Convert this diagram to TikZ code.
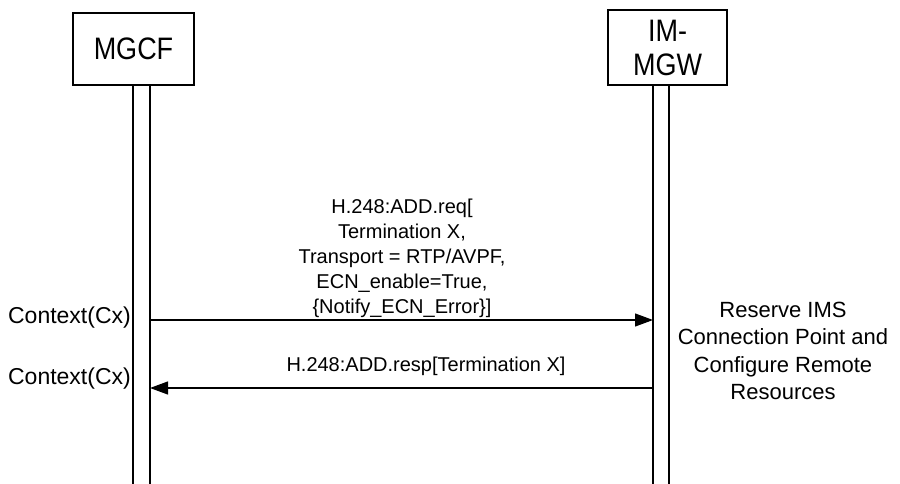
\documentclass[tikz,border=0pt]{standalone}
\usepackage{fontspec}
\setmainfont{Liberation Sans}
\usetikzlibrary{arrows.meta}
\newcommand{\tallt}[1]{\scalebox{1}[1.15]{#1}}
\begin{document}
\begin{tikzpicture}[x=1pt,y=-1pt,
  entity/.style={draw,line width=1.2pt,inner sep=0pt,align=center,font=\fontsize{27}{34}\selectfont},
  life/.style={line width=1.2pt},
  msg/.style={line width=1.2pt,-{Triangle[length=18pt,width=13pt]}},
  lbl/.style={inner sep=0pt,align=center,font=\fontsize{20}{25}\selectfont},
  side/.style={inner sep=0pt,align=center,font=\fontsize{22}{27.5}\selectfont},
  ctx/.style={inner sep=0pt,anchor=east,font=\fontsize{23}{27.5}\selectfont}]
\useasboundingbox (0,0) rectangle (900,484);
% entities
\node[entity,minimum width=121pt,minimum height=72pt] (mgcf) at (133.5,49) {\tallt{MGCF}};
\node[entity,minimum width=119pt,minimum height=75pt] (mgw) at (667.5,47.5) {\tallt{IM-}\\\tallt{MGW}};
% lifelines
\coordinate (mA) at (133,85); \coordinate (mAb) at (133,484);
\coordinate (mB) at (150,85); \coordinate (mBb) at (150,484);
\coordinate (gA) at (653,85); \coordinate (gAb) at (653,484);
\coordinate (gB) at (669,85); \coordinate (gBb) at (669,484);
\draw[life] (mA) -- (mAb);
\draw[life] (mB) -- (mBb);
\draw[life] (gA) -- (gAb);
\draw[life] (gB) -- (gBb);
% messages
\coordinate (m1) at (150,320); \coordinate (g1) at (653,320);
\coordinate (m2) at (150,388); \coordinate (g2) at (653,388);
\draw[msg] (m1) -- (g1);
\draw[msg] (g2) -- (m2);
\node[lbl] (l1) at (402,258) {H.248:ADD.req[\\Termination X,\\Transport = RTP/AVPF,\\ECN\_enable=True,\\\{Notify\_ECN\_Error\}]};
\node[lbl] (l2) at (426,366) {H.248:ADD.resp[Termination X]};
% side texts
\node[ctx] (c1) at (131,318) {Context(Cx)};
\node[ctx] (c2) at (131,379) {Context(Cx)};
\node[side] (res) at (783,351) {Reserve IMS\\Connection Point and\\Configure Remote\\Resources};
\end{tikzpicture}
\end{document}
